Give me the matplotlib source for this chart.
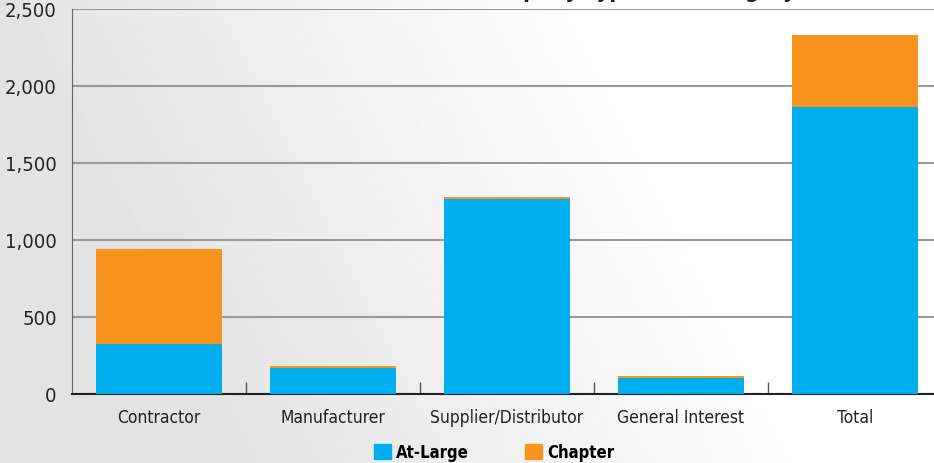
import numpy as np
import matplotlib
matplotlib.use("Agg")
import matplotlib.pyplot as plt
from matplotlib.patches import Patch

# values
categories = ["Contractor", "Manufacturer", "Supplier/Distributor", "General Interest", "Total"]
at_large = [323, 168, 1263, 103, 1863]
chapter = [619, 13, 18, 13, 466]
y_ticks = [0, 500, 1000, 1500, 2000, 2500]
y_tick_labels = ["0", "500", "1,000", "1,500", "2,000", "2,500"]

BLUE = "#00AEEF"
ORANGE = "#F7941D"

plt.rcParams["font.family"] = ["DejaVu Sans"]
plt.rcParams["font.stretch"] = "condensed"

fig = plt.figure(figsize=(9.34, 4.64), dpi=100)

# light grey to white background
bg = fig.add_axes([0, 0, 1, 1], zorder=-10)
xx, yy = np.meshgrid(np.linspace(0, 1, 400), np.linspace(0, 1, 200))
grad = np.clip(0.89 + 0.11 * (xx * 1.6 - yy * 0.4), 0.89, 1.0)
bg.imshow(grad, cmap="gray", vmin=0, vmax=1, aspect="auto", extent=[0, 1, 0, 1])
bg.axis("off")

ax = fig.add_axes([72 / 934, 69 / 464, 870 / 934, 385 / 464])
ax.patch.set_alpha(0)

x = np.arange(len(categories))
w = 0.724
ax.bar(x, at_large, w, color=BLUE, zorder=3)
ax.bar(x, chapter, w, bottom=at_large, color=ORANGE, zorder=3)

ax.set_xlim(-0.5, len(categories) - 0.5)
ax.set_ylim(0, 2500)
ax.set_yticks(y_ticks)
ax.set_yticklabels(y_tick_labels, fontsize=14.5, color="#222222")
ax.tick_params(axis="y", length=0, pad=11)

ax.set_xticks(x)
ax.set_xticklabels(categories, fontsize=12.5, color="#222222")
ax.tick_params(axis="x", length=0, pad=10)
ax.set_xticks(x[:-1] + 0.5, minor=True)
ax.tick_params(axis="x", which="minor", direction="in", length=9, width=1, color="#555555")

ax.grid(axis="y", color="#999999", linewidth=1.5, zorder=1)
for s in ["top", "right"]:
    ax.spines[s].set_visible(False)
ax.spines["left"].set_color("#666666")
ax.spines["bottom"].set_color("#222222")
ax.spines["bottom"].set_linewidth(1.5)

# title sits mostly above the canvas, only descenders show
fig.text(796 / 934, 1 + 1.5 / 464, "Members Per Company Type and Category", ha="right", va="baseline",
         fontsize=16, fontweight="bold", color="#222222")

handles = [Patch(color=BLUE, label="At-Large"), Patch(color=ORANGE, label="Chapter")]
leg = fig.legend(handles=handles, loc="lower center", bbox_to_anchor=(494 / 934, -0.028), ncol=2, frameon=False,
                 handlelength=1.0, handleheight=1.0, handletextpad=0.3, columnspacing=3.4,
                 prop={"weight": "bold", "size": 12})

fig.savefig("out.png", dpi=100)
